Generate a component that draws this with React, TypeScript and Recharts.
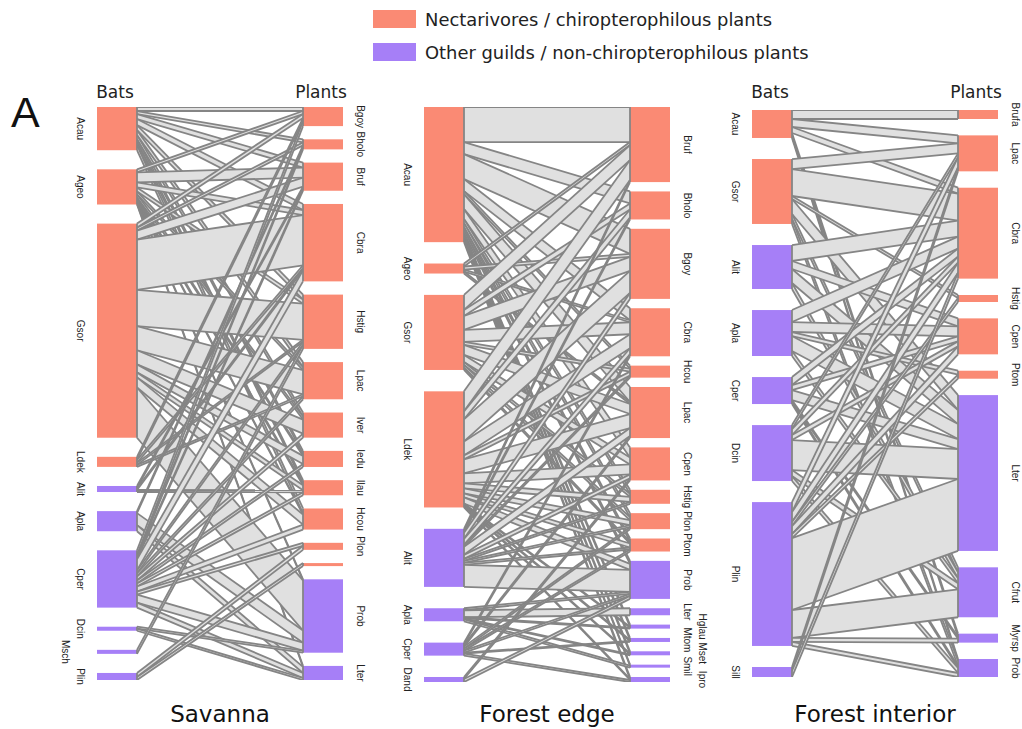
import { ComposedChart, Area, XAxis, YAxis, ReferenceArea } from 'recharts';

const NECTAR = '#fa8a74';
const OTHER = '#a67ff7';
const LINK_FILL = '#e0e0e0';
const LINK_STROKE = '#858585';
const SANS = '"DejaVu Sans", Verdana, sans-serif';
const LABEL_FONT = '"Liberation Sans", Arial, sans-serif';
const LABEL_SIZE = 10;

// ---- Savanna ----
const savannaBats = ['Acau', 'Ageo', 'Gsor', 'Ldek', 'Alit', 'Apla', 'Cper', 'Dcin', 'Msch', 'Plin'];
const savannaBatGuild = ['N', 'N', 'N', 'N', 'O', 'O', 'O', 'O', 'O', 'O'];
const savannaPlants = ['Bgoy', 'Bholo', 'Bruf', 'Cbra', 'Hstig', 'Lpac', 'Iver', 'Iedu', 'Ilau', 'Hcou', 'Plon', '', 'Prob', 'Lter'];
const savannaPlantGuild = ['N', 'N', 'N', 'N', 'N', 'N', 'N', 'N', 'N', 'N', 'N', 'N', 'O', 'O'];
const savannaVisits: [string, string, number][] = [
  ['Acau', 'Bgoy', 4], ['Acau', 'Bholo', 3], ['Acau', 'Bruf', 5], ['Acau', 'Cbra', 6], ['Acau', 'Hstig', 5],
  ['Acau', 'Lpac', 5], ['Acau', 'Iver', 4], ['Acau', 'Iedu', 3], ['Acau', 'Ilau', 3], ['Acau', 'Hcou', 5],
  ['Ageo', 'Bgoy', 3], ['Ageo', 'Bruf', 10], ['Ageo', 'Cbra', 5], ['Ageo', 'Hstig', 4], ['Ageo', 'Lpac', 3],
  ['Ageo', 'Iver', 3], ['Ageo', 'Iedu', 2], ['Ageo', 'Ilau', 2], ['Ageo', 'Hcou', 1], ['Ageo', 'Prob', 1], ['Ageo', 'Lter', 1],
  ['Gsor', 'Bgoy', 4], ['Gsor', 'Bholo', 3], ['Gsor', 'Bruf', 9], ['Gsor', 'Cbra', 50], ['Gsor', 'Hstig', 36],
  ['Gsor', 'Lpac', 24], ['Gsor', 'Iver', 14], ['Gsor', 'Iedu', 8], ['Gsor', 'Ilau', 5], ['Gsor', 'Hcou', 10], ['Gsor', 'Prob', 50],
  ['Ldek', 'Bgoy', 3], ['Ldek', 'Cbra', 3], ['Ldek', 'Hstig', 2], ['Ldek', 'Lpac', 2],
  ['Alit', 'Bruf', 2], ['Alit', 'Cbra', 2], ['Alit', 'Ilau', 2],
  ['Apla', 'Bholo', 2], ['Apla', 'Prob', 12], ['Apla', 'Lter', 6],
  ['Cper', 'Bgoy', 5], ['Cper', 'Bholo', 2], ['Cper', 'Bruf', 2], ['Cper', 'Cbra', 11], ['Cper', 'Hstig', 3],
  ['Cper', 'Lpac', 3], ['Cper', 'Iver', 4], ['Cper', 'Iedu', 3], ['Cper', 'Ilau', 3], ['Cper', 'Hcou', 5],
  ['Cper', 'Plon', 3], ['Cper', 'Prob', 8], ['Cper', 'Lter', 5],
  ['Dcin', 'Prob', 2], ['Dcin', 'Lter', 2],
  ['Msch', 'Hstig', 4],
  ['Plin', 'Plon', 4], ['Plin', '', 3],
];

// ---- Forest edge ----
const edgeBats = ['Acau', 'Ageo', 'Gsor', 'Ldek', 'Alit', 'Apla', 'Cper', 'Dand'];
const edgeBatGuild = ['N', 'N', 'N', 'N', 'O', 'O', 'O', 'O'];
const edgePlants = ['Bruf', 'Bholo', 'Bgoy', 'Cbra', 'Hcou', 'Lpac', 'Cpen', 'Hstig', 'Plon', 'Ptom', 'Prob', 'Lter', 'Hglau', 'Mtom', 'Mset', 'Smil', 'Ipro'];
const edgePlantGuild = ['N', 'N', 'N', 'N', 'N', 'N', 'N', 'N', 'N', 'N', 'O', 'O', 'O', 'O', 'O', 'O', 'O'];
const edgeVisits: [string, string, number][] = [
  ['Acau', 'Bruf', 35], ['Acau', 'Bholo', 12], ['Acau', 'Bgoy', 25], ['Acau', 'Cbra', 12], ['Acau', 'Hcou', 3],
  ['Acau', 'Lpac', 15], ['Acau', 'Cpen', 10], ['Acau', 'Hstig', 4], ['Acau', 'Plon', 4], ['Acau', 'Ptom', 3],
  ['Acau', 'Prob', 3], ['Acau', 'Hglau', 2], ['Acau', 'Mtom', 2], ['Acau', 'Mset', 2], ['Acau', 'Smil', 1], ['Acau', 'Ipro', 2],
  ['Ageo', 'Bruf', 3], ['Ageo', 'Bgoy', 3], ['Ageo', 'Cbra', 2], ['Ageo', 'Lpac', 2],
  ['Gsor', 'Bruf', 15], ['Gsor', 'Bholo', 6], ['Gsor', 'Bgoy', 14], ['Gsor', 'Cbra', 12], ['Gsor', 'Hcou', 3],
  ['Gsor', 'Lpac', 10], ['Gsor', 'Cpen', 7], ['Gsor', 'Hstig', 3], ['Gsor', 'Plon', 3], ['Gsor', 'Ptom', 2],
  ['Ldek', 'Bruf', 20], ['Ldek', 'Bholo', 8], ['Ldek', 'Bgoy', 22], ['Ldek', 'Cbra', 14], ['Ldek', 'Hcou', 4],
  ['Ldek', 'Lpac', 14], ['Ldek', 'Cpen', 10], ['Ldek', 'Hstig', 5], ['Ldek', 'Plon', 5], ['Ldek', 'Ptom', 4],
  ['Ldek', 'Prob', 6], ['Ldek', 'Hglau', 1], ['Ldek', 'Mtom', 1], ['Ldek', 'Mset', 1], ['Ldek', 'Ipro', 1],
  ['Alit', 'Bruf', 2], ['Alit', 'Bholo', 2], ['Alit', 'Bgoy', 6], ['Alit', 'Cbra', 6], ['Alit', 'Hcou', 2],
  ['Alit', 'Lpac', 8], ['Alit', 'Cpen', 4], ['Alit', 'Hstig', 2], ['Alit', 'Plon', 2], ['Alit', 'Ptom', 2], ['Alit', 'Prob', 22],
  ['Apla', 'Prob', 2], ['Apla', 'Lter', 7], ['Apla', 'Hglau', 1], ['Apla', 'Mset', 1], ['Apla', 'Smil', 2],
  ['Cper', 'Cbra', 2], ['Cper', 'Lpac', 2], ['Cper', 'Plon', 2], ['Cper', 'Ptom', 2], ['Cper', 'Prob', 2],
  ['Cper', 'Mtom', 1], ['Cper', 'Ipro', 2],
  ['Dand', 'Cpen', 2], ['Dand', 'Prob', 3],
];

// ---- Forest interior ----
const interiorBats = ['Acau', 'Gsor', 'Alit', 'Apla', 'Cper', 'Dcin', 'Plin', 'Sill'];
const interiorBatGuild = ['N', 'N', 'O', 'O', 'O', 'O', 'O', 'O'];
const interiorPlants = ['Brufa', 'Lpac', 'Cbra', 'Hstig', 'Cpen', 'Ptom', 'Lter', 'Cfrut', 'Myrsp', 'Prob'];
const interiorPlantGuild = ['N', 'N', 'N', 'N', 'N', 'N', 'O', 'O', 'O', 'O'];
const interiorVisits: [string, string, number][] = [
  ['Acau', 'Brufa', 9], ['Acau', 'Lpac', 8], ['Acau', 'Cbra', 6], ['Acau', 'Myrsp', 3], ['Acau', 'Prob', 2],
  ['Gsor', 'Lpac', 10], ['Gsor', 'Cbra', 27], ['Gsor', 'Hstig', 3], ['Gsor', 'Lter', 15], ['Gsor', 'Cfrut', 5], ['Gsor', 'Prob', 5],
  ['Alit', 'Cbra', 16], ['Alit', 'Cpen', 8], ['Alit', 'Lter', 14], ['Alit', 'Cfrut', 6],
  ['Apla', 'Cbra', 12], ['Apla', 'Cpen', 10], ['Apla', 'Ptom', 4], ['Apla', 'Lter', 15], ['Apla', 'Cfrut', 5],
  ['Cper', 'Cbra', 8], ['Cper', 'Cpen', 5], ['Cper', 'Lter', 10], ['Cper', 'Myrsp', 2], ['Cper', 'Prob', 2],
  ['Dcin', 'Lpac', 4], ['Dcin', 'Cbra', 6], ['Dcin', 'Cpen', 5], ['Dcin', 'Lter', 30], ['Dcin', 'Cfrut', 6], ['Dcin', 'Prob', 5],
  ['Plin', 'Lpac', 10], ['Plin', 'Cbra', 10], ['Plin', 'Hstig', 4], ['Plin', 'Cpen', 8], ['Plin', 'Ptom', 4],
  ['Plin', 'Lter', 72], ['Plin', 'Cfrut', 28], ['Plin', 'Myrsp', 4], ['Plin', 'Prob', 4],
  ['Sill', 'Lpac', 4], ['Sill', 'Cbra', 6],
];

const panelTitles = ['Savanna', 'Forest edge', 'Forest interior'];
const legendLabels = ['Nectarivores / chiropterophilous plants', 'Other guilds / non-chiropterophilous plants'];

type Web = {
  id: string;
  bats: string[];
  batGuild: string[];
  plants: string[];
  plantGuild: string[];
  links: [string, string, number][];
};

const webs: Web[] = [
  { id: 'sav', bats: savannaBats, batGuild: savannaBatGuild, plants: savannaPlants, plantGuild: savannaPlantGuild, links: savannaVisits },
  { id: 'edge', bats: edgeBats, batGuild: edgeBatGuild, plants: edgePlants, plantGuild: edgePlantGuild, links: edgeVisits },
  { id: 'int', bats: interiorBats, batGuild: interiorBatGuild, plants: interiorPlants, plantGuild: interiorPlantGuild, links: interiorVisits },
];

// panel geometry (px)
const geos = [
  { left: 97, top: 107, bottom: 680, fill: 0.7, headers: true },
  { left: 424, top: 107, bottom: 682, fill: 0.74, headers: false },
  { left: 752, top: 110, bottom: 677, fill: 0.74, headers: true },
];

const BAR_W = 40;
const SPAN = 166;
const BW = BAR_W / SPAN;
const PAD = 60;
const H_PX = 729;

// rough label length in px, for staggering overlapping labels
function textLen(s: string) {
  let em = 0;
  for (const ch of s) {
    if ('ilj'.includes(ch)) em += 0.22;
    else if ('ftrI'.includes(ch)) em += 0.3;
    else if ('mwM'.includes(ch)) em += 0.83;
    else if (ch >= 'A' && ch <= 'Z') em += 0.7;
    else em += 0.556;
  }
  return em * LABEL_SIZE;
}

function layoutWeb(web: Web, fill: number, plotH: number) {
  const links = web.links.map(([b, p, v]) => ({ b: web.bats.indexOf(b), p: web.plants.indexOf(p), v }));
  const bTot = web.bats.map((_, i) => links.filter((l) => l.b === i).reduce((s, l) => s + l.v, 0));
  const pTot = web.plants.map((_, i) => links.filter((l) => l.p === i).reduce((s, l) => s + l.v, 0));
  const total = bTot.reduce((s, v) => s + v, 0);
  const H = total / fill;

  const stack = (tot: number[]) => {
    const gap = (H - total) / (tot.length - 1);
    let y = 0;
    return tot.map((v) => {
      const r = [y, y + v];
      y += v + gap;
      return r;
    });
  };
  const bPos = stack(bTot);
  const pPos = stack(pTot);

  const bCur = bPos.map((r) => r[0]);
  const pCur = pPos.map((r) => r[0]);
  const atBat: number[][] = [];
  const atPlant: number[][] = [];
  const idx = links.map((_, i) => i);
  [...idx]
    .sort((a, c) => links[a].b - links[c].b || links[a].p - links[c].p)
    .forEach((i) => {
      const l = links[i];
      atBat[i] = [bCur[l.b], bCur[l.b] + l.v];
      bCur[l.b] += l.v;
    });
  [...idx]
    .sort((a, c) => links[a].p - links[c].p || links[a].b - links[c].b)
    .forEach((i) => {
      const l = links[i];
      atPlant[i] = [pCur[l.p], pCur[l.p] + l.v];
      pCur[l.p] += l.v;
    });

  const rows: any[] = [{ x: 0 }, { x: 1 }];
  const keys: string[] = [];
  links.forEach((_, i) => {
    const k = `${web.id}${i}`;
    keys.push(k);
    rows[0][k] = atBat[i];
    rows[1][k] = atPlant[i];
  });

  // stagger labels that would overlap into a second column
  const kpx = plotH / H;
  const cols = (names: string[], pos: number[][]) => {
    const end = [-Infinity, -Infinity];
    return names.map((n, i) => {
      const c = ((pos[i][0] + pos[i][1]) / 2) * kpx;
      const half = textLen(n) / 2;
      const col = n && c - half < end[0] + 1 ? 1 : 0;
      if (n) end[col] = c + half;
      return col;
    });
  };

  return { rows, keys, H, bPos, pPos, bCol: cols(web.bats, bPos), pCol: cols(web.plants, pPos) };
}

function nodeShape(name: string, color: string, side: 'left' | 'right', col: number) {
  return (p: any) => {
    const { x, y, width, height } = p;
    const off = col ? 32 : 17;
    const cx = side === 'left' ? x - off : x + width + off;
    const cy = y + height / 2;
    const edge = side === 'left' ? x + width : x;
    return (
      <g>
        <rect x={x} y={y} width={width} height={height} fill={color} />
        <line x1={edge} x2={edge} y1={y} y2={y + height} stroke={LINK_STROKE} strokeWidth={1.8} />
        {name ? (
          <text
            x={cx}
            y={cy}
            transform={`rotate(90 ${cx} ${cy})`}
            textAnchor="middle"
            dominantBaseline="central"
            fontSize={LABEL_SIZE}
            fontFamily={LABEL_FONT}
            fill="#222"
          >
            {name}
          </text>
        ) : null}
      </g>
    );
  };
}

function WebPanel({ web, geo }: { web: Web; geo: (typeof geos)[number] }) {
  const L = layoutWeb(web, geo.fill, geo.bottom - geo.top);
  const color = (g: string) => (g === 'N' ? NECTAR : OTHER);
  return (
    <div style={{ position: 'absolute', left: geo.left - PAD, top: 0 }}>
      <ComposedChart
        width={2 * BAR_W + SPAN + 2 * PAD}
        height={H_PX}
        data={L.rows}
        margin={{ top: geo.top, right: PAD, bottom: H_PX - geo.bottom, left: PAD }}
      >
        <XAxis type="number" dataKey="x" domain={[-BW, 1 + BW]} allowDataOverflow hide />
        <YAxis type="number" domain={[0, L.H]} allowDataOverflow reversed hide />
        {L.keys.map((k) => (
          <Area
            key={k}
            dataKey={k}
            type="linear"
            fill={LINK_FILL}
            fillOpacity={1}
            stroke={LINK_STROKE}
            strokeWidth={1.8}
            dot={false}
            activeDot={false}
            isAnimationActive={false}
          />
        ))}
        {web.bats.map((b, i) => (
          <ReferenceArea
            key={`b${i}`}
            x1={-BW}
            x2={0}
            y1={L.bPos[i][0]}
            y2={L.bPos[i][1]}
            ifOverflow="visible"
            shape={nodeShape(b, color(web.batGuild[i]), 'left', L.bCol[i])}
          />
        ))}
        {web.plants.map((p, i) => (
          <ReferenceArea
            key={`p${i}`}
            x1={1}
            x2={1 + BW}
            y1={L.pPos[i][0]}
            y2={L.pPos[i][1]}
            ifOverflow="visible"
            shape={nodeShape(p, color(web.plantGuild[i]), 'right', L.pCol[i])}
          />
        ))}
      </ComposedChart>
    </div>
  );
}

export default function App() {
  const plotW = 2 * BAR_W + SPAN;
  return (
    <div style={{ position: 'absolute', left: 0, top: 0, width: 1022, height: H_PX, background: '#fff' }}>
      <svg width={1022} height={H_PX} style={{ position: 'absolute', left: 0, top: 0 }}>
        <rect x={373} y={10} width={43} height={18} fill={NECTAR} />
        <rect x={373} y={43} width={43} height={18} fill={OTHER} />
        <text x={425} y={26} fontSize={17.9} fontFamily={SANS} fill="#222">{legendLabels[0]}</text>
        <text x={425} y={59} fontSize={17.9} fontFamily={SANS} fill="#222">{legendLabels[1]}</text>
        <text x={11} y={127} fontSize={43} fontFamily={LABEL_FONT} fill="#111">A</text>
        {geos.map((g, i) => (
          <g key={i}>
            {g.headers ? (
              <>
                <text x={g.left + 18} y={98} textAnchor="middle" fontSize={17} fontFamily={SANS} fill="#222">Bats</text>
                <text x={g.left + plotW - 22} y={98} textAnchor="middle" fontSize={17} fontFamily={SANS} fill="#222">Plants</text>
              </>
            ) : null}
            <text x={g.left + plotW / 2} y={722} textAnchor="middle" fontSize={23} fontFamily={SANS} fill="#111">
              {panelTitles[i]}
            </text>
          </g>
        ))}
      </svg>
      {webs.map((w, i) => (
        <WebPanel key={w.id} web={w} geo={geos[i]} />
      ))}
    </div>
  );
}
